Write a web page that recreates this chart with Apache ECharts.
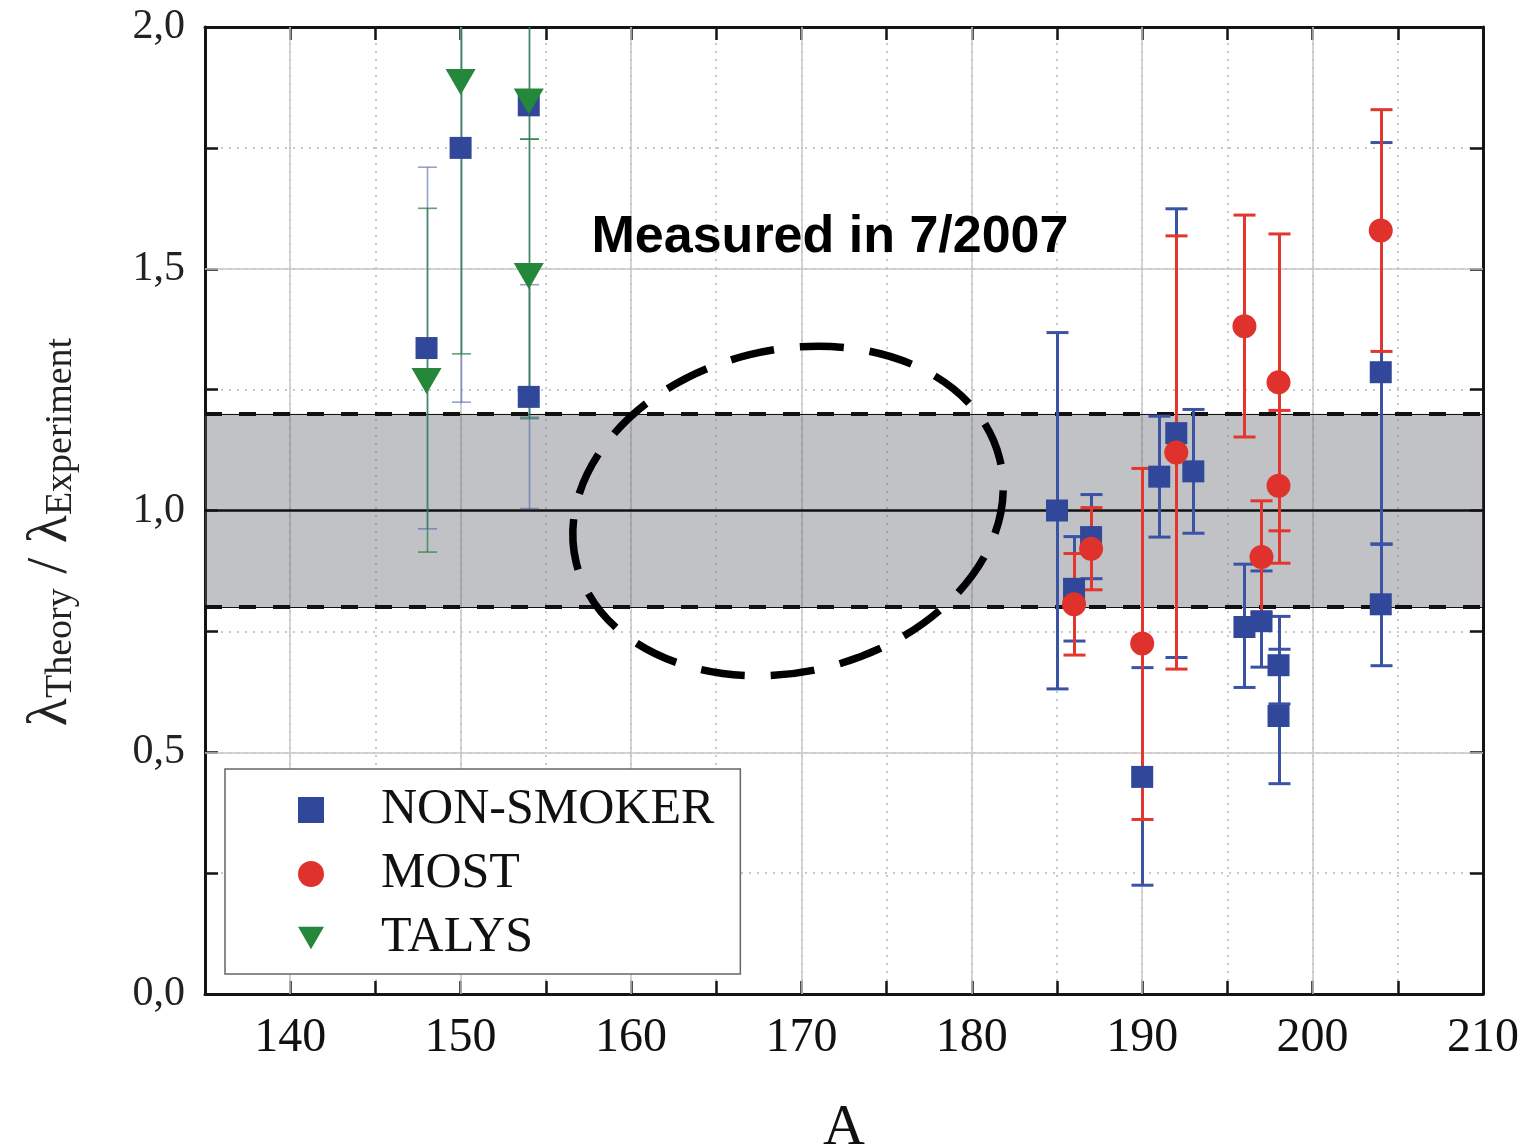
<!DOCTYPE html>
<html>
<head>
<meta charset="utf-8">
<script src="https://cdn.jsdelivr.net/npm/echarts@6/dist/echarts.min.js"></script>
<style>
  html, body { margin: 0; padding: 0; background: #fff; }
  #chart { width: 1520px; height: 1148px; }
</style>
</head>
<body>
<div id="chart"></div>
<script>
  // NON-SMOKER: mass number, ratio, error low, error high
  var nsA = [148, 150, 154, 154, 185, 186, 187, 190, 191, 192, 193, 196, 197, 198, 198, 204, 204]
  var nsVal = [1.336, 1.75, 1.838, 1.235, 1.0, 0.838, 0.945, 0.449, 1.07, 1.16, 1.081, 0.759, 0.771, 0.68, 0.575, 1.286, 0.806]
  var nsLo = [0.962, 1.224, 1.193, 1.004, 0.631, 0.73, 0.859, 0.225, 0.945, 0.696, 0.953, 0.634, 0.676, 0.6, 0.435, 0.93, 0.679]
  var nsHi = [1.71, 2.2, 2.2, 1.467, 1.368, 0.946, 1.033, 0.675, 1.195, 1.624, 1.209, 0.889, 0.875, 0.781, 0.713, 1.761, 0.931]

  // MOST
  var mostA = [186, 187, 190, 192, 196, 197, 198, 198, 204]
  var mostVal = [0.806, 0.921, 0.725, 1.12, 1.381, 0.904, 1.265, 1.051, 1.579]
  var mostLo = [0.701, 0.836, 0.361, 0.672, 1.152, 0.788, 0.958, 0.891, 1.329]
  var mostHi = [0.911, 1.006, 1.087, 1.568, 1.611, 1.02, 1.572, 1.207, 1.829]

  // TALYS
  var talA = [148, 150, 154, 154]
  var talVal = [1.268, 1.886, 1.846, 1.485]
  var talLo = [0.914, 1.324, 1.768, 1.19]
  var talHi = [1.625, 2.3, 2.3, 1.768]

  // agreement band and reference lines
  var bandLo = 0.8
  var bandHi = 1.2
  var unity = 1.0
  var majorA = [140, 150, 160, 170, 180, 190, 200]
  var majorY = [0.5, 1.5]

  var serif = '"Liberation Serif", "DejaVu Serif", serif'
  var frame = '#141414'
  var downTriangle = 'path://M0,0 L10,0 L5,8.7 Z'

  function pts(xs, ys) {
    return xs.map(function (x, i) { return [x, ys[i]] })
  }
  function bars(xs, lo, hi) {
    return xs.map(function (x, i) { return [x, lo[i], hi[i]] })
  }

  function errorBars(color, faint) {
    return function (params, api) {
      var x = api.value(0)
      var lo = api.coord([x, api.value(1)])
      var hi = api.coord([x, api.value(2)])
      var left = x < 160
      var px = Math.round(lo[0]) + 0.5
      var half = left ? 9.5 : 11
      var style = {stroke: left ? faint : color, lineWidth: left ? 1.6 : 3}
      return {
        type: 'group',
        children: [
          {type: 'line', shape: {x1: px, y1: lo[1], x2: px, y2: hi[1]}, style: style},
          {type: 'line', shape: {x1: px - half, y1: lo[1], x2: px + half, y2: lo[1]}, style: style},
          {type: 'line', shape: {x1: px - half, y1: hi[1], x2: px + half, y2: hi[1]}, style: style}
        ]
      }
    }
  }

  function yLabel(v) {
    return Math.abs(v * 2 - Math.round(v * 2)) < 1e-6 ? v.toFixed(1).replace('.', ',') : ''
  }

  var chart = echarts.init(document.getElementById('chart'))

  chart.setOption({
    animation: false,
    backgroundColor: '#fff',
    grid: {left: 205, right: 37, top: 27, bottom: 154, show: false, containLabel: false, outerBoundsMode: 'none'},
    legend: {
      orient: 'vertical',
      left: 225,
      top: 769,
      data: [
        {name: 'NON-SMOKER', icon: 'rect'},
        {name: 'MOST', icon: 'circle'},
        {name: 'TALYS', icon: downTriangle}
      ],
      backgroundColor: '#fff',
      borderColor: '#666',
      borderWidth: 1.5,
      borderRadius: 0,
      padding: [16, 26, 11, 73],
      itemWidth: 26,
      itemHeight: 26,
      itemGap: 14,
      textStyle: {fontFamily: serif, fontSize: 50, color: '#111', lineHeight: 50, padding: [0, 0, 0, 52]}
    },
    xAxis: [{
      type: 'value',
      min: 135,
      max: 210,
      interval: 5,
      position: 'bottom',
      name: 'A',
      nameLocation: 'middle',
      nameGap: 106,
      nameTextStyle: {fontFamily: serif, fontSize: 58, color: '#111'},
      axisLine: {show: true, onZero: false, lineStyle: {color: frame, width: 3}},
      axisTick: {show: true, inside: true, length: 13, lineStyle: {color: frame, width: 2.5}},
      axisLabel: {
        formatter: function (v) { return v % 10 === 0 ? String(v) : '' },
        fontFamily: serif, fontSize: 48, color: '#111', margin: 20
      },
      splitLine: {show: true, lineStyle: {color: '#b8b8b8', type: [2, 6], width: 1.5}}
    }, {
      type: 'value',
      min: 135,
      max: 210,
      interval: 5,
      position: 'top',
      axisLine: {show: true, onZero: false, lineStyle: {color: frame, width: 3}},
      axisTick: {show: true, inside: true, length: 13, lineStyle: {color: frame, width: 2.5}},
      axisLabel: {show: false},
      splitLine: {show: false}
    }],
    yAxis: [{
      type: 'value',
      min: 0,
      max: 2,
      interval: 0.25,
      position: 'left',
      axisLine: {show: true, onZero: false, lineStyle: {color: frame, width: 3}},
      axisTick: {show: true, inside: true, length: 13, lineStyle: {color: frame, width: 2.5}},
      axisLabel: {formatter: yLabel, fontFamily: serif, fontSize: 42, color: '#222', margin: 20},
      splitLine: {show: true, lineStyle: {color: '#b8b8b8', type: [2, 6], width: 1.5}}
    }, {
      type: 'value',
      min: 0,
      max: 2,
      interval: 0.25,
      position: 'right',
      axisLine: {show: true, onZero: false, lineStyle: {color: frame, width: 3}},
      axisTick: {show: true, inside: true, length: 13, lineStyle: {color: frame, width: 2.5}},
      axisLabel: {show: false},
      splitLine: {show: false}
    }],
    graphic: [{
      type: 'text',
      x: 51,
      y: 532,
      rotation: Math.PI / 2,
      z: 100,
      style: {
        text: '{l|λ}{s|Theory}{l| / λ}{s|Experiment}',
        align: 'center',
        verticalAlign: 'middle',
        fill: '#222',
        rich: {
          l: {fontFamily: serif, fontSize: 58, lineHeight: 58, verticalAlign: 'top', padding: [0, 0, 30, 0], fill: '#222'},
          s: {fontFamily: serif, fontSize: 38, lineHeight: 38, verticalAlign: 'bottom', fill: '#222'}
        }
      }
    }, {
      type: 'text',
      x: 830,
      y: 238,
      z: 100,
      style: {
        text: 'Measured in 7/2007',
        fontFamily: '"Liberation Sans", Arial, sans-serif',
        fontWeight: 'bold',
        fontSize: 52,
        fill: '#000',
        align: 'center',
        verticalAlign: 'middle'
      }
    }, {
      type: 'ellipse',
      x: 788,
      y: 511,
      rotation: 0.24,
      z: 100,
      shape: {cx: 0, cy: 0, rx: 218, ry: 161},
      style: {fill: 'none', stroke: '#000', lineWidth: 7.5, lineDash: [44, 26]}
    }],
    series: [{
      // solid major grid lines, kept under everything else
      name: 'grid',
      type: 'scatter',
      data: [],
      z: 1,
      markLine: {
        silent: true,
        z: 1,
        symbol: ['none', 'none'],
        label: {show: false},
        lineStyle: {color: '#c6c6c6', type: 'solid', width: 1.5},
        data: majorA.map(function (v) { return {xAxis: v} })
          .concat(majorY.map(function (v) { return {yAxis: v} }))
      }
    }, {
      name: 'band',
      type: 'scatter',
      data: [],
      z: 2,
      markArea: {
        silent: true,
        z: 2,
        itemStyle: {color: 'rgba(100,103,112,0.4)'},
        data: [[{yAxis: bandLo}, {yAxis: bandHi}]]
      },
      markLine: {
        silent: true,
        z: 2,
        symbol: ['none', 'none'],
        label: {show: false},
        data: [
          {yAxis: unity, lineStyle: {color: '#111', type: 'solid', width: 2.5}},
          {yAxis: bandLo, lineStyle: {color: '#111', type: 'solid', width: 1.2}},
          {yAxis: bandHi, lineStyle: {color: '#111', type: 'solid', width: 1.2}},
          {yAxis: bandLo, lineStyle: {color: '#111', type: [17, 17], width: 4}},
          {yAxis: bandHi, lineStyle: {color: '#111', type: [17, 17], width: 4}}
        ]
      }
    }, {
      name: 'ns-err',
      type: 'custom',
      clip: true,
      z: 3,
      renderItem: errorBars('#3a53a4', 'rgba(80,98,170,0.6)'),
      data: bars(nsA, nsLo, nsHi)
    }, {
      name: 'most-err',
      type: 'custom',
      clip: true,
      z: 3,
      renderItem: errorBars('#e2362f', 'rgba(226,54,47,0.6)'),
      data: bars(mostA, mostLo, mostHi)
    }, {
      name: 'talys-err',
      type: 'custom',
      clip: true,
      z: 3,
      renderItem: errorBars('#2f8a45', 'rgba(40,130,70,0.75)'),
      data: bars(talA, talLo, talHi)
    }, {
      name: 'NON-SMOKER',
      type: 'scatter',
      symbol: 'rect',
      symbolSize: 22,
      z: 4,
      itemStyle: {color: '#31479a', opacity: 1},
      data: pts(nsA, nsVal)
    }, {
      name: 'MOST',
      type: 'scatter',
      symbol: 'circle',
      symbolSize: 24,
      z: 4,
      itemStyle: {color: '#e0322c', opacity: 1},
      data: pts(mostA, mostVal)
    }, {
      name: 'TALYS',
      type: 'scatter',
      symbol: 'triangle',
      symbolRotate: 180,
      symbolSize: [30, 26],
      z: 5,
      itemStyle: {color: '#24873a', opacity: 1},
      data: pts(talA, talVal)
    }]
  })
</script>
</body>
</html>
